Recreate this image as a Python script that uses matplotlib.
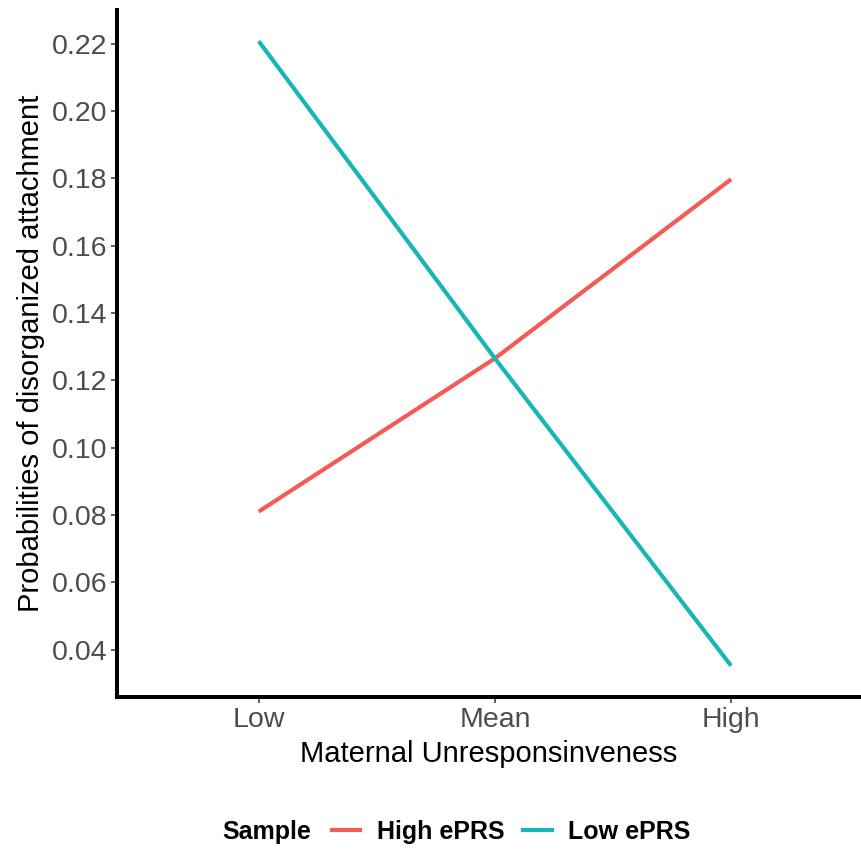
import matplotlib.pyplot as plt
from matplotlib.lines import Line2D

plt.rcParams['font.family'] = ['Liberation Sans', 'DejaVu Sans']

# Data
levels = ['Low', 'Mean', 'High']
high_eprs = [0.081, 0.1265, 0.1797]
low_eprs = [0.2207, 0.1265, 0.0352]
series_names = ['High ePRS', 'Low ePRS']
series_colors = ['#F35B57', '#17B5B7']

fig = plt.figure(figsize=(8.61, 8.49), dpi=100)
ax = fig.add_axes([117 / 861, 1 - 697 / 849, 1 - 117 / 861, (697 - 10) / 849])

xs = range(len(levels))
ax.plot(xs, high_eprs, color=series_colors[0], lw=3.0, solid_capstyle='butt')
ax.plot(xs, low_eprs, color=series_colors[1], lw=3.0, solid_capstyle='butt')

# Axis limits (ggplot-like expansion)
ymin, ymax = min(low_eprs + high_eprs), max(low_eprs + high_eprs)
pad = (ymax - ymin) * 0.05
ax.set_ylim(ymin - pad, ymax + pad)
ax.set_xlim(-0.6, 2.55)

ax.set_xticks(list(xs))
ax.set_xticklabels(levels)
ax.set_yticks([0.04, 0.06, 0.08, 0.10, 0.12, 0.14, 0.16, 0.18, 0.20, 0.22])
ax.set_yticklabels([f'{v:.2f}' for v in ax.get_yticks()])
ax.tick_params(labelsize=20.5, labelcolor='#4D4D4D', length=4, width=1.1,
               color='#333333', pad=3)

for side in ['top', 'right']:
    ax.spines[side].set_visible(False)
for side in ['left', 'bottom']:
    ax.spines[side].set_linewidth(2.9)
    ax.spines[side].set_color('black')

ax.set_xlabel('Maternal Unresponsinveness', fontsize=21, labelpad=5)
ax.set_ylabel('Probabilities of disorganized attachment', fontsize=21, labelpad=5)

# Legend at bottom, title inline
handles = [Line2D([0], [0], color=c, lw=3.0) for c in series_colors]
leg = fig.legend(handles, series_names, loc='center', ncol=2, frameon=False,
                 bbox_to_anchor=(511 / 861, 1 - 832 / 849),
                 prop={'size': 18, 'weight': 'bold'},
                 handlelength=1.15, handletextpad=0.65, columnspacing=0.75)
fig.text(222 / 861, 1 - 832 / 849, 'Sample', fontsize=18, fontweight='bold',
         ha='left', va='center')

plt.savefig('out.png', dpi=100, facecolor='white')
plt.close()
